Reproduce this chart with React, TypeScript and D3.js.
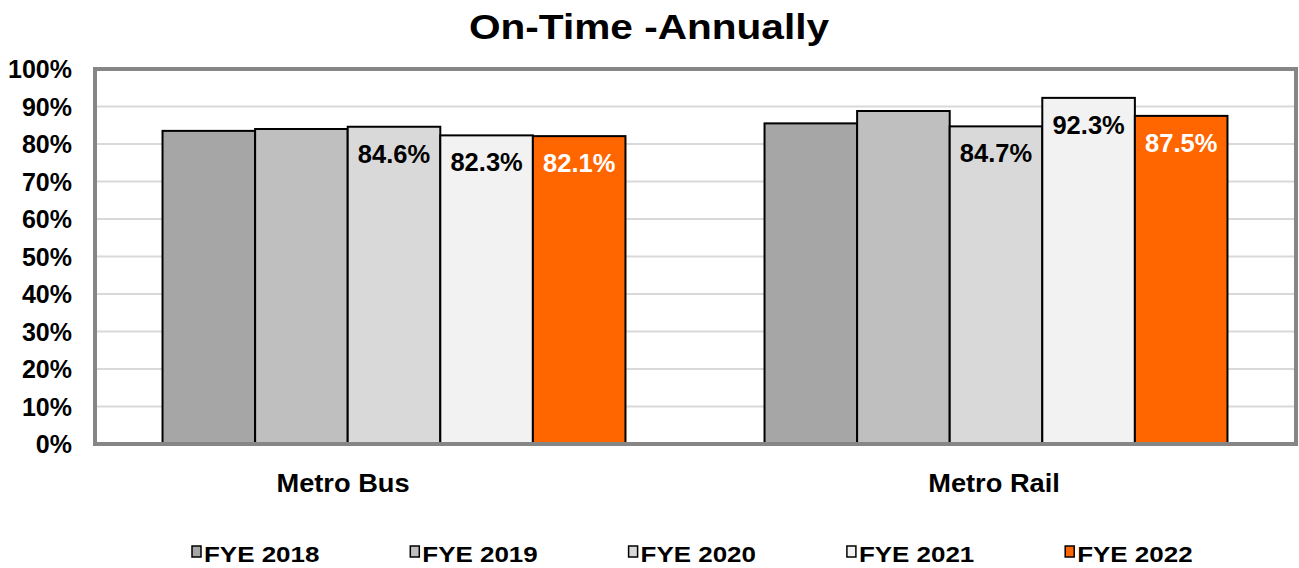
import React from 'react';
import * as d3 from 'd3';

const categories = ['Metro Bus', 'Metro Rail'];
const seriesNames = ['FYE 2018', 'FYE 2019', 'FYE 2020', 'FYE 2021', 'FYE 2022'];
const seriesColors = ['#a6a6a6', '#bfbfbf', '#d9d9d9', '#f2f2f2', '#ff6600'];
const labelColors = [null, null, '#000000', '#000000', '#ffffff'];
// values per series, [Metro Bus, Metro Rail]
const fye2018 = [83.5, 85.5];
const fye2019 = [84.0, 88.8];
const fye2020 = [84.6, 84.7];
const fye2021 = [82.3, 92.3];
const fye2022 = [82.1, 87.5];
const seriesValues = [fye2018, fye2019, fye2020, fye2021, fye2022];
const yTicks = [0, 10, 20, 30, 40, 50, 60, 70, 80, 90, 100];

const W = 1299;
const H = 568;
const FONT = '"Liberation Sans", Arial, sans-serif';

const StretchText = ({ x, y, sx = 1, size, anchor = 'start', fill = '#000', children }: any) => (
  <text
    transform={`translate(${x},${y}) scale(${sx},1)`}
    fontFamily={FONT}
    fontWeight="bold"
    fontSize={size}
    textAnchor={anchor}
    fill={fill}
  >
    {children}
  </text>
);

export default function App() {
  const plotLeft = 93;
  const plotRight = 1297;

  const y = d3.scaleLinear().domain([0, 100]).range([444, 69]);
  const x0 = d3.scaleBand<string>().domain(categories).range([plotLeft, plotRight]).padding(0);
  const bw = x0.bandwidth();
  const x1 = d3
    .scaleBand<string>()
    .domain(seriesNames)
    .range([bw * 0.1155, bw * 0.8845])
    .padding(0);

  const legendX = d3
    .scaleBand<string>()
    .domain(seriesNames)
    .range([192, 192 + 5 * 218.3]);

  // category label nudge (Metro Bus sits left of its group in the original)
  const catDx = [-51, -2];

  return (
    <svg width={W} height={H} style={{ position: 'absolute', left: 0, top: 0, background: '#fff' }}>
      <rect x={0} y={0} width={W} height={H} fill="#fff" />

      <StretchText x={649} y={39} sx={1.16} size={35} anchor="middle">
        On-Time -Annually
      </StretchText>

      {/* gridlines */}
      {yTicks.map((t) => (
        <line
          key={t}
          x1={plotLeft}
          x2={plotRight}
          y1={y(t)}
          y2={y(t)}
          stroke="#d9d9d9"
          strokeWidth={2}
        />
      ))}

      {/* bars */}
      {categories.map((cat, ci) => (
        <g key={cat} transform={`translate(${x0(cat)},0)`}>
          {seriesNames.map((s, si) => {
            const v = seriesValues[si][ci];
            return (
              <rect
                key={s}
                x={x1(s)}
                y={y(v)}
                width={x1.bandwidth()}
                height={y(0) - y(v)}
                fill={seriesColors[si]}
                stroke="#000"
                strokeWidth={2}
              />
            );
          })}
          {seriesNames.map((s, si) => {
            const col = labelColors[si];
            if (!col) return null;
            const v = seriesValues[si][ci];
            return (
              <StretchText
                key={s}
                x={(x1(s) as number) + x1.bandwidth() / 2}
                y={y(v) + 36}
                size={25.5}
                anchor="middle"
                fill={col}
              >
                {v.toFixed(1)}%
              </StretchText>
            );
          })}
        </g>
      ))}

      {/* frame */}
      <rect
        x={95}
        y={69}
        width={plotRight - 96}
        height={y(0) - 69}
        fill="none"
        stroke="#868686"
        strokeWidth={4}
      />

      {/* y axis labels */}
      {yTicks.map((t) => (
        <StretchText key={t} x={72} y={y(t) + 9} size={25} anchor="end">
          {t}%
        </StretchText>
      ))}

      {/* category labels */}
      {categories.map((cat, ci) => (
        <StretchText
          key={cat}
          x={(x0(cat) as number) + bw / 2 + catDx[ci]}
          y={492}
          sx={1.09}
          size={25}
          anchor="middle"
        >
          {cat}
        </StretchText>
      ))}

      {/* legend */}
      {seriesNames.map((s, si) => {
        const lx = legendX(s) as number;
        return (
          <g key={s}>
            <rect x={lx} y={546} width={9} height={11} fill={seriesColors[si]} stroke="#000" strokeWidth={1.5} />
            <StretchText x={lx + 12} y={562} sx={1.18} size={22}>
              {s}
            </StretchText>
          </g>
        );
      })}
    </svg>
  );
}
